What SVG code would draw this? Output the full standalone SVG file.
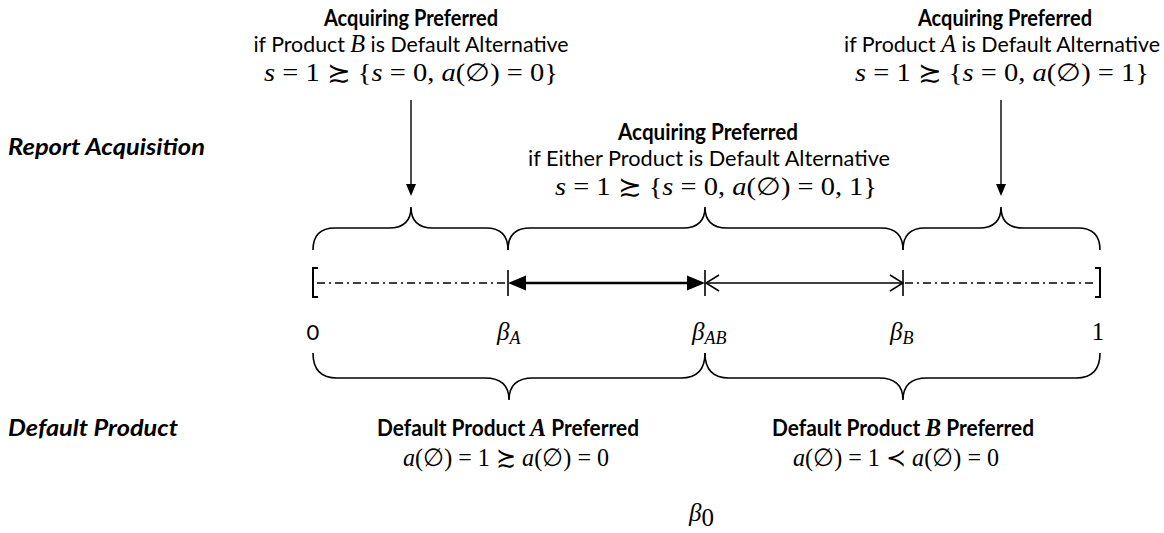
<svg xmlns="http://www.w3.org/2000/svg" width="1164" height="533" viewBox="0 0 1164 533">
  <style>
    .t { font-family: Lato, "Liberation Sans", sans-serif; font-size: 22px; fill: #000; }
    .b { font-weight: 700; }
    .bi { font-weight: 700; font-style: italic; }
    .m { font-family: "Liberation Serif", "DejaVu Serif", serif; font-size: 25px; fill: #000; }
    .i { font-style: italic; }
    .brace { fill: none; stroke: #000; stroke-width: 1.6; }
    .dd { stroke: #000; stroke-width: 1.6; stroke-dasharray: 8 4 2 4; fill: none; }
    .tick { stroke: #000; stroke-width: 1.6; fill: none; }
    .brk { stroke: #000; stroke-width: 2; fill: none; }
    .stem { stroke: #000; stroke-width: 1.4; }
  </style>

  <rect width="1164" height="533" fill="#fff"/>

  <!-- row titles -->
  <g id="title-report">
    <text class="t bi" x="8" y="155" textLength="197" lengthAdjust="spacingAndGlyphs">Report Acquisition</text>
  </g>
  <g id="title-default">
    <text class="t bi" x="8" y="436" textLength="170" lengthAdjust="spacingAndGlyphs">Default Product</text>
  </g>

  <!-- acquisition preference labels -->
  <g id="acq-default-B">
    <text class="t b" x="411" y="26" text-anchor="middle" textLength="174" lengthAdjust="spacingAndGlyphs">Acquiring Preferred</text>
    <text class="t" x="411" y="52" text-anchor="middle" textLength="315" lengthAdjust="spacingAndGlyphs">if Product <tspan class="m i" font-size="23">B</tspan> is Default Alternative</text>
    <text class="m" x="411" y="81" text-anchor="middle" textLength="294" lengthAdjust="spacingAndGlyphs"><tspan class="i">s</tspan> = 1 ≿ {<tspan class="i">s</tspan> = 0, <tspan class="i">a</tspan>(∅) = 0}</text>
  </g>
  <g id="acq-either">
    <text class="t b" x="708" y="140" text-anchor="middle" textLength="180" lengthAdjust="spacingAndGlyphs">Acquiring Preferred</text>
    <text class="t" x="709" y="166" text-anchor="middle" textLength="362" lengthAdjust="spacingAndGlyphs">if Either Product is Default Alternative</text>
    <text class="m" x="716" y="195" text-anchor="middle" textLength="322" lengthAdjust="spacingAndGlyphs"><tspan class="i">s</tspan> = 1 ≿ {<tspan class="i">s</tspan> = 0, <tspan class="i">a</tspan>(∅) = 0, 1}</text>
  </g>
  <g id="acq-default-A">
    <text class="t b" x="1005" y="26" text-anchor="middle" textLength="174" lengthAdjust="spacingAndGlyphs">Acquiring Preferred</text>
    <text class="t" x="1002" y="52" text-anchor="middle" textLength="316" lengthAdjust="spacingAndGlyphs">if Product <tspan class="m i" font-size="23">A</tspan> is Default Alternative</text>
    <text class="m" x="1002" y="81" text-anchor="middle" textLength="294" lengthAdjust="spacingAndGlyphs"><tspan class="i">s</tspan> = 1 ≿ {<tspan class="i">s</tspan> = 0, <tspan class="i">a</tspan>(∅) = 1}</text>
  </g>

  <!-- default product preference labels -->
  <g id="default-A">
    <text class="t b" x="508" y="436" text-anchor="middle" textLength="262" lengthAdjust="spacingAndGlyphs">Default Product <tspan class="m i" font-size="23">A</tspan> Preferred</text>
    <text class="m" x="506" y="466" text-anchor="middle" textLength="206" lengthAdjust="spacingAndGlyphs"><tspan class="i">a</tspan>(∅) = 1 ≿ <tspan class="i">a</tspan>(∅) = 0</text>
  </g>
  <g id="default-B">
    <text class="t b" x="903" y="436" text-anchor="middle" textLength="262" lengthAdjust="spacingAndGlyphs">Default Product <tspan class="m i" font-size="23">B</tspan> Preferred</text>
    <text class="m" x="896" y="466" text-anchor="middle" textLength="206" lengthAdjust="spacingAndGlyphs"><tspan class="i">a</tspan>(∅) = 1 ≺ <tspan class="i">a</tspan>(∅) = 0</text>
  </g>

  <!-- axis tick labels -->
  <g id="axis-labels">
    <text class="t" x="313" y="340" text-anchor="middle" font-size="25">0</text>
    <text class="m i" x="497" y="340" font-size="28">β<tspan font-size="18" dy="4">A</tspan></text>
    <text class="m i" x="692" y="340" font-size="28">β<tspan font-size="18" dy="4">AB</tspan></text>
    <text class="m i" x="890" y="340" font-size="28">β<tspan font-size="18" dy="4">B</tspan></text>
    <text class="m" x="1098" y="340" text-anchor="middle" font-size="27">1</text>
  </g>
  <g id="beta0">
    <text class="m i" x="689" y="521" font-size="36">β<tspan font-style="normal" font-size="25" dy="5">0</tspan></text>
  </g>

  <!-- interval axis -->
  <g id="axis">
    <path class="brk" d="M318,268 H313 V297 H318"/>
    <path class="brk" d="M1095,268 H1100 V297 H1095"/>
    <line class="dd" x1="317" y1="283" x2="508" y2="283"/>
    <line class="dd" x1="905" y1="283" x2="1097" y2="283"/>
    <line class="tick" x1="508" y1="270" x2="508" y2="296"/>
    <line class="tick" x1="705" y1="270" x2="705" y2="296"/>
    <line class="tick" x1="903" y1="270" x2="903" y2="296"/>
  </g>

  <!-- braces and arrows -->
  <g id="connectors">
    <path class="brace" d="M313,250 Q313,228 335,228 L389,228 Q411,228 411,207 Q411,228 433,228 L486,228 Q508,228 508,250"/>
    <path class="brace" d="M508,250 Q508,228 530,228 L683,228 Q705,228 705,207 Q705,228 727,228 L881,228 Q903,228 903,250"/>
    <path class="brace" d="M903,250 Q903,228 925,228 L979,228 Q1001,228 1001,207 Q1001,228 1023,228 L1078,228 Q1100,228 1100,250"/>

    <path class="brace" d="M313,353 Q313,378 337,378 L485,378 Q509,378 509,400 Q509,378 533,378 L681,378 Q705,378 705,353"/>
    <path class="brace" d="M705,353 Q705,378 729,378 L879,378 Q903,378 903,400 Q903,378 927,378 L1076,378 Q1100,378 1100,353"/>

    <line class="stem" x1="411" y1="100" x2="411" y2="186"/>
    <path d="M406,184 L416,184 L411,196 Z" fill="#000"/>
    <line class="stem" x1="1001" y1="100" x2="1001" y2="186"/>
    <path d="M996,184 L1006,184 L1001,196 Z" fill="#000"/>

    <line x1="522" y1="283" x2="691" y2="283" stroke="#000" stroke-width="2.6"/>
    <path d="M508,283 L526,275.5 L526,290.5 Z" fill="#000"/>
    <path d="M705,283 L687,275.5 L687,290.5 Z" fill="#000"/>

    <line x1="706" y1="283" x2="902" y2="283" stroke="#000" stroke-width="1.5"/>
    <path d="M719,275 L706,283 L719,291" fill="none" stroke="#000" stroke-width="1.5"/>
    <path d="M890,275 L903,283 L890,291" fill="none" stroke="#000" stroke-width="1.5"/>
  </g>
</svg>
